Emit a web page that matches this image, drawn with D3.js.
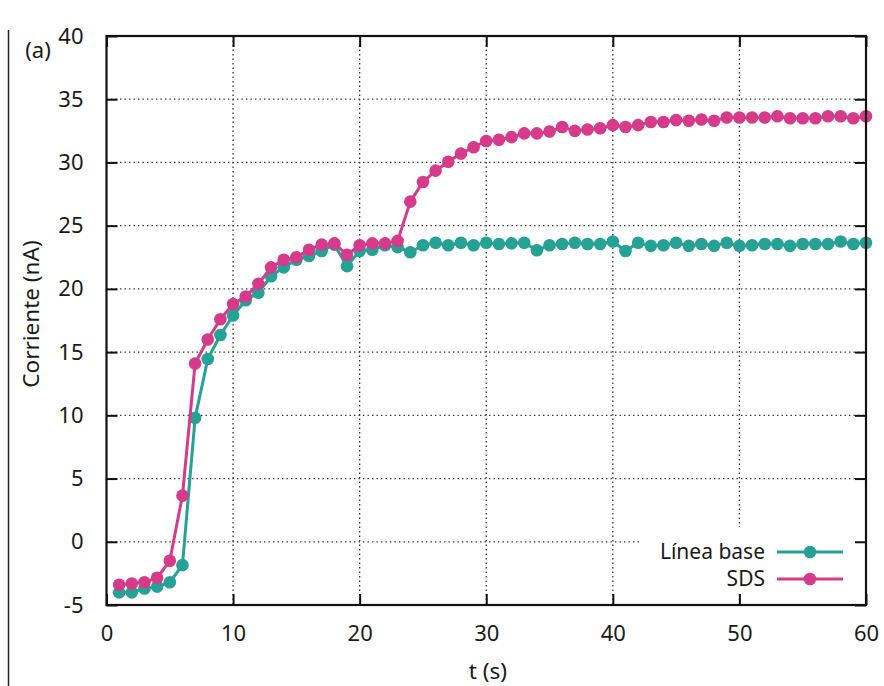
<!DOCTYPE html>
<html>
<head>
<meta charset="utf-8">
<script src="https://cdn.jsdelivr.net/npm/d3@7"></script>
<style>
  html, body { margin: 0; padding: 0; background: #fff; }
  svg { display: block; }
  text { font-family: "Noto Sans", "DejaVu Sans", sans-serif; fill: #1a1a1a; }
</style>
</head>
<body>
<svg id="chart" width="884" height="686"></svg>
<script>
// Time axis (s)
const times = d3.range(1, 61);

// Current (nA), baseline run
const baseline = [-4.0, -4.0, -3.7, -3.55, -3.2, -1.85, 9.8, 14.45, 16.35, 17.9,
  19.1, 19.7, 21.0, 21.7, 22.3, 22.6, 23.0, 23.5, 21.8, 23.0,
  23.1, 23.45, 23.3, 22.9, 23.45, 23.65, 23.45, 23.65, 23.45, 23.65,
  23.55, 23.6, 23.65, 23.05, 23.45, 23.55, 23.65, 23.55, 23.55, 23.75,
  23.0, 23.65, 23.4, 23.45, 23.65, 23.4, 23.55, 23.4, 23.65, 23.4,
  23.45, 23.55, 23.55, 23.4, 23.55, 23.55, 23.55, 23.75, 23.55, 23.65];

// Current (nA), with SDS
const sds = [-3.4, -3.3, -3.2, -2.85, -1.5, 3.65, 14.1, 16.0, 17.6, 18.8,
  19.4, 20.4, 21.7, 22.3, 22.5, 23.1, 23.5, 23.6, 22.7, 23.45,
  23.6, 23.6, 23.8, 26.9, 28.45, 29.35, 30.05, 30.7, 31.2, 31.7,
  31.8, 32.0, 32.3, 32.3, 32.45, 32.8, 32.5, 32.6, 32.7, 32.95,
  32.8, 32.95, 33.2, 33.2, 33.35, 33.3, 33.4, 33.3, 33.55, 33.55,
  33.55, 33.55, 33.65, 33.5, 33.5, 33.5, 33.65, 33.65, 33.5, 33.65];

const seriesNames = ["Línea base", "SDS"];
const seriesColors = ["#26a196", "#d63a8a"];
const xTicks = [0, 10, 20, 30, 40, 50, 60];
const yTicks = [-5, 0, 5, 10, 15, 20, 25, 30, 35, 40];

const svg = d3.select("#chart");
const plotL = 106.5, plotR = 866, plotT = 36, plotB = 605;

const x = d3.scaleLinear().domain([0, 60]).range([plotL, plotR]);
const y = d3.scaleLinear().domain([-5, 40]).range([plotB, plotT]);

svg.append("rect").attr("width", 884).attr("height", 686).attr("fill", "#fff");

// panel border line on the far left
svg.append("line")
  .attr("x1", 8.5).attr("x2", 8.5).attr("y1", 30).attr("y2", 686)
  .attr("stroke", "#222").attr("stroke-width", 1.5);

// dotted grid
const grid = svg.append("g").attr("stroke", "#333").attr("stroke-width", 1.3)
  .attr("stroke-dasharray", "1.4,3.1");
grid.selectAll(".gx").data(xTicks.slice(1, -1)).join("line")
  .attr("x1", d => x(d)).attr("x2", d => x(d)).attr("y1", plotT).attr("y2", plotB);
grid.selectAll(".gy").data(yTicks.slice(1, -1)).join("line")
  .attr("y1", d => y(d)).attr("y2", d => y(d)).attr("x1", plotL).attr("x2", plotR);

// opaque key area
svg.append("rect").attr("x", 640).attr("y", 527).attr("width", 224).attr("height", 67)
  .attr("fill", "#fff");

// series
const all = [baseline, sds];
const line = d3.line().x((d, i) => x(times[i])).y(d => y(d));
all.forEach((vals, k) => {
  const g = svg.append("g");
  g.append("path").datum(vals).attr("d", line)
    .attr("fill", "none").attr("stroke", seriesColors[k]).attr("stroke-width", 3)
    .attr("stroke-linejoin", "round");
  g.selectAll("circle").data(vals).join("circle")
    .attr("cx", (d, i) => x(times[i])).attr("cy", d => y(d)).attr("r", 6.3)
    .attr("fill", seriesColors[k]);
});

// axes with inward ticks on all four sides
const tickLen = 11;
const plain = d => String(d);
const axisG = svg.append("g");
axisG.append("g").attr("transform", `translate(0,${plotB})`)
  .call(d3.axisBottom(x).tickValues(xTicks).tickFormat(plain).tickSize(-tickLen).tickPadding(20));
axisG.append("g").attr("transform", `translate(0,${plotT})`)
  .call(d3.axisTop(x).tickValues(xTicks).tickSize(-tickLen).tickFormat(""));
axisG.append("g").attr("transform", `translate(${plotL},0)`)
  .call(d3.axisLeft(y).tickValues(yTicks).tickFormat(plain).tickSize(-tickLen).tickPadding(23));
axisG.append("g").attr("transform", `translate(${plotR},0)`)
  .call(d3.axisRight(y).tickValues(yTicks).tickSize(-tickLen).tickFormat(""));
axisG.selectAll(".domain").remove();
axisG.selectAll(".tick line").attr("stroke", "#111").attr("stroke-width", 2);
axisG.selectAll(".tick text").attr("font-size", 22)
  .attr("font-family", "Noto Sans, DejaVu Sans, sans-serif").attr("fill", "#1a1a1a");

svg.append("rect").attr("x", plotL).attr("y", plotT)
  .attr("width", plotR - plotL).attr("height", plotB - plotT)
  .attr("fill", "none").attr("stroke", "#111").attr("stroke-width", 2.2);

// key
seriesNames.forEach((name, k) => {
  const cy = 552 + k * 27;
  svg.append("text").attr("x", 765).attr("y", cy).attr("dy", "0.35em")
    .attr("text-anchor", "end").attr("font-size", 21).text(name);
  svg.append("line").attr("x1", 777).attr("x2", 843).attr("y1", cy).attr("y2", cy)
    .attr("stroke", seriesColors[k]).attr("stroke-width", 3);
  svg.append("circle").attr("cx", 810).attr("cy", cy).attr("r", 6.3)
    .attr("fill", seriesColors[k]);
});

// axis titles and panel tag
svg.append("text").attr("x", 488).attr("y", 671).attr("dy", "0.35em")
  .attr("text-anchor", "middle").attr("font-size", 22.5).text("t (s)");
svg.append("text").attr("transform", "translate(31,314) rotate(-90)")
  .attr("dy", "0.35em").attr("text-anchor", "middle").attr("font-size", 22.5)
  .text("Corriente (nA)");
svg.append("text").attr("x", 38).attr("y", 50).attr("dy", "0.35em")
  .attr("text-anchor", "middle").attr("font-size", 22).text("(a)");
</script>
</body>
</html>
